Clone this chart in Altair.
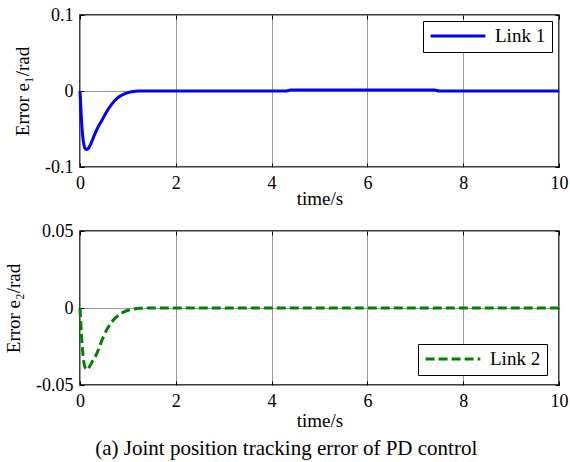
import altair as alt
import pandas as pd

# ---- data ----
t1 = [0, 0.02, 0.05, 0.08, 0.11, 0.14, 0.18, 0.23, 0.3, 0.38, 0.45, 0.55, 0.66,
      0.78, 0.94, 1.08, 1.22, 4.3, 4.4, 7.4, 7.5, 10]
e1 = [0, -0.025, -0.055, -0.07, -0.076, -0.077, -0.075, -0.069, -0.058, -0.047,
      -0.0395, -0.028, -0.0175, -0.0095, -0.0035, -0.001, 0, 0, 0.0012, 0.0012, 0, 0]

t2 = [0, 0.02, 0.05, 0.08, 0.11, 0.15, 0.2, 0.27, 0.35, 0.42, 0.49, 0.58, 0.7,
      0.82, 0.94, 1.08, 1.25, 1.5, 10]
e2 = [0, -0.012, -0.026, -0.035, -0.039, -0.040, -0.038, -0.034, -0.0296, -0.024,
      -0.0186, -0.013, -0.0077, -0.0045, -0.0022, -0.0009, -0.0002, 0, 0]

x_ticks = [0, 2, 4, 6, 8, 10]
y1_ticks = [-0.1, 0, 0.1]
y2_ticks = [-0.05, 0, 0.05]
series1 = "Link 1"
series2 = "Link 2"
caption = "(a) Joint position tracking error of PD control"

FONT = "Liberation Serif"

df1 = pd.DataFrame({"t": t1, "e": e1, "series": series1})
df2 = pd.DataFrame({"t": t2, "e": e2, "series": series2})

XSCALE = alt.Scale(domain=[0, 10], nice=False, zero=False)


def y_fmt(fmt):
    return ("datum.value == 0 ? '0' : (datum.value < 0 ? '-' : '') + "
            "format(abs(datum.value), '%s')" % fmt)


def legend(x, y, dash=None):
    kw = dict(title=None, orient="none", legendX=x, legendY=y,
              symbolType="stroke", symbolSize=3000, symbolStrokeWidth=3,
              strokeColor="black", fillColor="white", padding=6, labelOffset=8,
              clipHeight=18)
    if dash:
        kw["symbolDash"] = dash
    return alt.Legend(**kw)


def tick_axis(vals, orient):
    return alt.Axis(values=vals, orient=orient, labels=False, grid=False,
                    ticks=True, tickSize=4, offset=-4, tickColor="black",
                    tickWidth=1, title=None, domain=False)


def panel(df, yticks, fmt, ytitle, color, leg, dash, tpad, h):
    yscale = alt.Scale(domain=[yticks[0], yticks[-1]], nice=False)
    mark_kw = dict(strokeWidth=3, interpolate="monotone")
    if dash:
        mark_kw["strokeDash"] = dash
    main = alt.Chart(df).mark_line(**mark_kw).encode(
        x=alt.X("t:Q", scale=XSCALE,
                axis=alt.Axis(values=x_ticks, title="time/s", labelPadding=7,
                              titlePadding=tpad, labelFlush=False)),
        y=alt.Y("e:Q", scale=yscale,
                axis=alt.Axis(values=yticks, title=ytitle, labelPadding=7,
                              titlePadding=12, labelExpr=y_fmt(fmt))),
        color=alt.Color("series:N", scale=alt.Scale(domain=[df["series"][0]],
                                                    range=[color]),
                        legend=leg),
    )
    ticks_bl = alt.Chart(df).mark_line(opacity=0).encode(
        x=alt.X("t:Q", scale=XSCALE, axis=tick_axis(x_ticks, "bottom")),
        y=alt.Y("e:Q", scale=yscale, axis=tick_axis(yticks, "left")),
    )
    ticks_tr = alt.Chart(df).mark_line(opacity=0).encode(
        x=alt.X("t:Q", scale=XSCALE, axis=tick_axis(x_ticks, "top")),
        y=alt.Y("e:Q", scale=yscale, axis=tick_axis(yticks, "right")),
    )
    return alt.layer(main, ticks_bl, ticks_tr).resolve_axis(
        x="independent", y="independent").properties(width=479, height=h)


top = panel(df1, y1_ticks, ".1f", "Error e\u2081/rad", "#0000ff",
            legend(343, 6), None, -3, 152)
bottom = panel(df2, y2_ticks, ".2f", "Error e\u2082/rad", "#008000",
               legend(338, 113, [9, 4]), [9, 4], 1, 154)

chart = alt.vconcat(
    top, bottom, spacing=12,
    title=alt.TitleParams(text=caption, orient="bottom", anchor="middle", font=FONT,
                          fontSize=21, fontWeight="normal", color="black", offset=7),
).resolve_scale(color="independent").properties(
    padding={"left": 3, "top": 5, "right": 0, "bottom": 2}
).configure_view(stroke="black", strokeWidth=1.5).configure_axis(
    grid=True, gridColor="#9a9a9a", gridWidth=1, gridOpacity=1,
    domain=False, ticks=False,
    labelFont=FONT, titleFont=FONT, labelFontSize=18, titleFontSize=19,
    titleFontWeight="normal", labelColor="black", titleColor="black",
).configure_legend(labelFont=FONT, labelFontSize=19, labelColor="black")

chart.save("out.html", embed_options={"renderer": "svg", "actions": False})
